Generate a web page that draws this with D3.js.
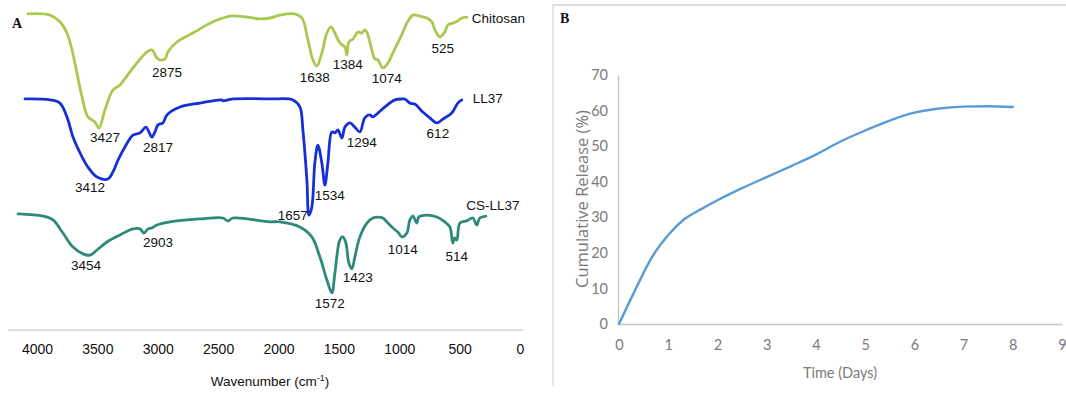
<!DOCTYPE html>
<html>
<head>
<meta charset="utf-8">
<script src="https://cdn.jsdelivr.net/npm/d3@7"></script>
<style>
  html, body { margin: 0; padding: 0; background: #fff; }
  svg { display: block; }
</style>
</head>
<body>
<svg id="chart" width="1066" height="394"></svg>
<script>
// ---------- Panel A: FTIR spectra (wavenumber cm-1, offset transmittance) ----------
const wavenumberTicks = [4000, 3500, 3000, 2500, 2000, 1500, 1000, 500, 0];

const chitosan = [
  [4075,98.8],[3892,98.4],[3810,96.3],[3752,92.8],[3710,87.5],[3669,80.3],[3627,72.8],[3578,66.6],
  [3520,65.0],[3487,63.1],[3437,68.8],[3371,75.0],[3313,76.6],[3205,81.9],[3089,86.9],[3048,87.5],
  [3007,85.0],[2982,84.4],[2940,84.7],[2916,86.9],[2841,90.0],[2709,92.8],[2543,96.3],[2402,98.1],
  [2262,97.8],[2154,97.2],[2071,97.5],[1988,98.4],[1864,98.8],[1806,97.5],[1756,90.6],[1715,84.4],
  [1682,82.5],[1641,86.6],[1599,92.8],[1566,94.7],[1533,92.8],[1492,89.7],[1450,88.4],[1434,85.9],
  [1417,90.0],[1384,90.9],[1343,93.1],[1310,92.8],[1285,93.8],[1268,93.1],[1227,87.5],[1202,84.7],
  [1177,84.4],[1136,81.9],[1094,83.4],[1053,86.6],[1012,89.7],[970,93.1],[937,95.9],[887,98.4],
  [830,98.1],[772,97.5],[730,96.3],[705,93.8],[664,91.6],[623,93.1],[598,95.3],[556,95.9],
  [515,96.6],[482,97.5],[440,97.8]
];

const ll37 = [
  [4099,72.2],[3892,71.9],[3810,70.9],[3752,66.6],[3702,60.3],[3627,54.1],[3578,50.9],[3503,47.8],
  [3412,47.2],[3371,49.4],[3329,53.1],[3272,57.2],[3205,60.9],[3147,61.6],[3098,63.4],[3073,61.9],
  [3048,60.3],[3023,61.9],[2998,64.1],[2957,64.7],[2924,67.2],[2816,69.7],[2651,70.9],[2469,71.9],
  [2460,71.6],[2378,72.2],[2071,72.2],[1881,71.9],[1823,69.7],[1798,62.5],[1765,46.9],[1748,35.9],
  [1724,38.4],[1699,52.2],[1674,57.8],[1641,52.2],[1616,45.3],[1591,52.2],[1558,61.9],[1533,61.6],
  [1508,62.5],[1475,60.0],[1450,63.4],[1409,64.7],[1368,63.4],[1326,61.9],[1285,66.3],[1243,67.2],
  [1219,66.6],[1177,67.8],[1119,69.7],[1036,71.9],[970,72.2],[954,72.2],[912,70.9],[871,70.6],
  [805,68.1],[747,66.3],[689,64.7],[639,65.9],[565,67.8],[515,70.9],[482,71.9]
];

const csll37 = [
  [4157,36.3],[3950,35.6],[3868,34.4],[3785,30.3],[3702,25.9],[3619,23.8],[3561,23.4],[3503,25.0],
  [3421,27.5],[3313,29.7],[3205,31.6],[3147,31.6],[3114,30.3],[3081,31.6],[3048,31.9],[3007,32.8],
  [2899,33.8],[2651,34.7],[2460,35.0],[2419,34.1],[2378,35.0],[2071,33.8],[1988,33.8],[1823,32.2],
  [1724,29.1],[1657,22.8],[1599,15.6],[1558,11.6],[1533,17.8],[1492,28.1],[1467,29.1],[1442,27.2],
  [1417,20.9],[1392,19.1],[1368,22.8],[1326,29.1],[1268,33.4],[1219,35.0],[1177,35.3],[1136,35.0],
  [1094,33.4],[1053,31.9],[1012,30.6],[978,29.1],[937,30.3],[912,34.4],[887,35.6],[854,33.4],
  [838,35.3],[772,35.9],[689,35.3],[623,33.8],[581,32.2],[556,27.2],[540,28.8],[523,28.1],
  [498,33.4],[440,34.1],[391,35.0],[358,32.8],[333,35.0],[283,35.6]
];

// peak annotations: [text, wavenumber position, y position]
const chitosanPeaks = [["3427",3437,60.3],["2875",2924,80.6],["1638",1699,79.1],["1384",1426,83.1],["1074",1103,78.8],["525",639,88.1]];
const ll37Peaks = [["3412",3561,44.7],["2817",2998,57.2],["1657",1881,35.9],["1534",1575,42.2],["1294",1310,58.8],["612",680,61.6]];
const csll37Peaks = [["3454",3594,20.3],["2903",2998,27.5],["1572",1575,8.4],["1423",1343,16.6],["1014",970,25.3],["514",523,23.1]];

const seriesNames = ["Chitosan", "LL37", "CS-LL37"];
const seriesLabelPos = [[399,97.5,"start"],[391,72.5,"start"],[225,39.1,"middle"]];
const seriesColors = ["#a8c850", "#1730d6", "#2d8a7b"];

// ---------- Panel B: release profile ----------
const days = [0,0.33,0.67,1,1.33,1.67,2,2.5,3,3.5,4,4.5,5,5.5,6,6.5,7,7.5,8];
const release = [0,9.6,18.8,25,29.5,32.3,34.8,38.2,41.3,44.4,47.6,51.3,54.4,57.2,59.4,60.6,61.1,61.2,61.0];
const dayTicks = [0,1,2,3,4,5,6,7,8,9];
const releaseTicks = [0,10,20,30,40,50,60,70];

const svg = d3.select("#chart");

// ===== Panel A =====
const xA = d3.scaleLinear().domain([4000, 0]).range([37, 520]);
const yA = d3.scaleLinear().domain([0, 100]).range([330, 10]);

const axA = svg.append("g").attr("transform", "translate(0,330)")
  .call(d3.axisBottom(xA).tickValues(wavenumberTicks).tickSize(0).tickPadding(14).tickFormat(d3.format("d")));
axA.select(".domain").attr("d", "M8,0H523").attr("stroke", "#d2d2d2").attr("stroke-width", 1.5);
axA.selectAll("text").attr("font-family", "Liberation Sans, Arial, sans-serif").attr("font-size", 14).attr("fill", "#111");

const xt = svg.append("text").attr("x", 270).attr("y", 386).attr("text-anchor", "middle")
  .attr("font-family", "Liberation Sans, Arial, sans-serif").attr("font-size", 13.5).attr("fill", "#111");
xt.append("tspan").text("Wavenumber (cm");
xt.append("tspan").attr("font-size", 9).attr("dy", -5).text("-1");
xt.append("tspan").attr("dy", 5).text(")");

const lineA = d3.line().x(d => xA(d[0])).y(d => yA(d[1])).curve(d3.curveCatmullRom.alpha(0.5));
[chitosan, ll37, csll37].forEach((s, i) => {
  svg.append("path").datum(s).attr("d", lineA).attr("fill", "none")
    .attr("stroke", seriesColors[i]).attr("stroke-width", 2.8)
    .attr("stroke-linejoin", "round").attr("stroke-linecap", "round");
});

[chitosanPeaks, ll37Peaks, csll37Peaks].forEach(p => {
  svg.append("g").selectAll("text").data(p).join("text")
    .attr("x", d => xA(d[1])).attr("y", d => yA(d[2])).attr("dy", "0.36em")
    .attr("text-anchor", "middle")
    .attr("font-family", "Liberation Sans, Arial, sans-serif").attr("font-size", 13.5).attr("fill", "#111")
    .text(d => d[0]);
});

svg.append("g").selectAll("text").data(seriesNames).join("text")
  .attr("x", (d, i) => xA(seriesLabelPos[i][0])).attr("y", (d, i) => yA(seriesLabelPos[i][1]))
  .attr("dy", "0.36em").attr("text-anchor", (d, i) => seriesLabelPos[i][2])
  .attr("font-family", "Liberation Sans, Arial, sans-serif").attr("font-size", 13.5).attr("fill", "#111")
  .text(d => d);

svg.append("text").attr("x", 12).attr("y", 28).text("A")
  .attr("font-family", "Liberation Serif, Times New Roman, serif").attr("font-weight", "bold").attr("font-size", 14).attr("fill", "#111");

// ===== Panel B =====
svg.append("line").attr("x1", 553).attr("x2", 553).attr("y1", 4).attr("y2", 386)
  .attr("stroke", "#dcdcdc").attr("stroke-width", 1.5);
svg.append("line").attr("x1", 553).attr("x2", 1066).attr("y1", 5).attr("y2", 5)
  .attr("stroke", "#dcdcdc").attr("stroke-width", 2);

svg.append("text").attr("x", 560).attr("y", 23).text("B")
  .attr("font-family", "Liberation Serif, Times New Roman, serif").attr("font-weight", "bold").attr("font-size", 14).attr("fill", "#111");

const xB = d3.scaleLinear().domain([0, 9]).range([619, 1062]);
const yB = d3.scaleLinear().domain([0, 70]).range([324, 75]);

const axBx = svg.append("g").attr("transform", "translate(0,324)")
  .call(d3.axisBottom(xB).tickValues(dayTicks).tickSize(0).tickPadding(16));
axBx.select(".domain").attr("stroke", "#c4c4c4").attr("stroke-width", 1.3);
axBx.selectAll("text").attr("font-family", "Lato, sans-serif").attr("font-size", 14.5).attr("fill", "#7a7a7a");

const axBy = svg.append("g").attr("transform", "translate(618,0)")
  .call(d3.axisLeft(yB).tickValues(releaseTicks).tickSize(0).tickPadding(10));
axBy.select(".domain").attr("stroke", "#c4c4c4").attr("stroke-width", 1.3);
axBy.selectAll("text").attr("font-family", "Lato, sans-serif").attr("font-size", 14.5).attr("fill", "#7a7a7a");

svg.append("text").attr("transform", "translate(582,199) rotate(-90)").attr("text-anchor", "middle")
  .attr("dy", "0.36em").attr("font-family", "Open Sans, sans-serif").attr("font-size", 16.5).attr("fill", "#7a7a7a")
  .text("Cumulative Release (%)");

svg.append("text").attr("x", 840).attr("y", 373).attr("dy", "0.36em").attr("text-anchor", "middle")
  .attr("font-family", "Lato, sans-serif").attr("font-size", 14.5).attr("fill", "#7a7a7a")
  .text("Time (Days)");

const lineB = d3.line().x((d, i) => xB(days[i])).y(d => yB(d)).curve(d3.curveMonotoneX);
svg.append("path").datum(release).attr("d", lineB).attr("fill", "none")
  .attr("stroke", "#5b9bd5").attr("stroke-width", 2.4).attr("stroke-linecap", "round");
</script>
</body>
</html>
